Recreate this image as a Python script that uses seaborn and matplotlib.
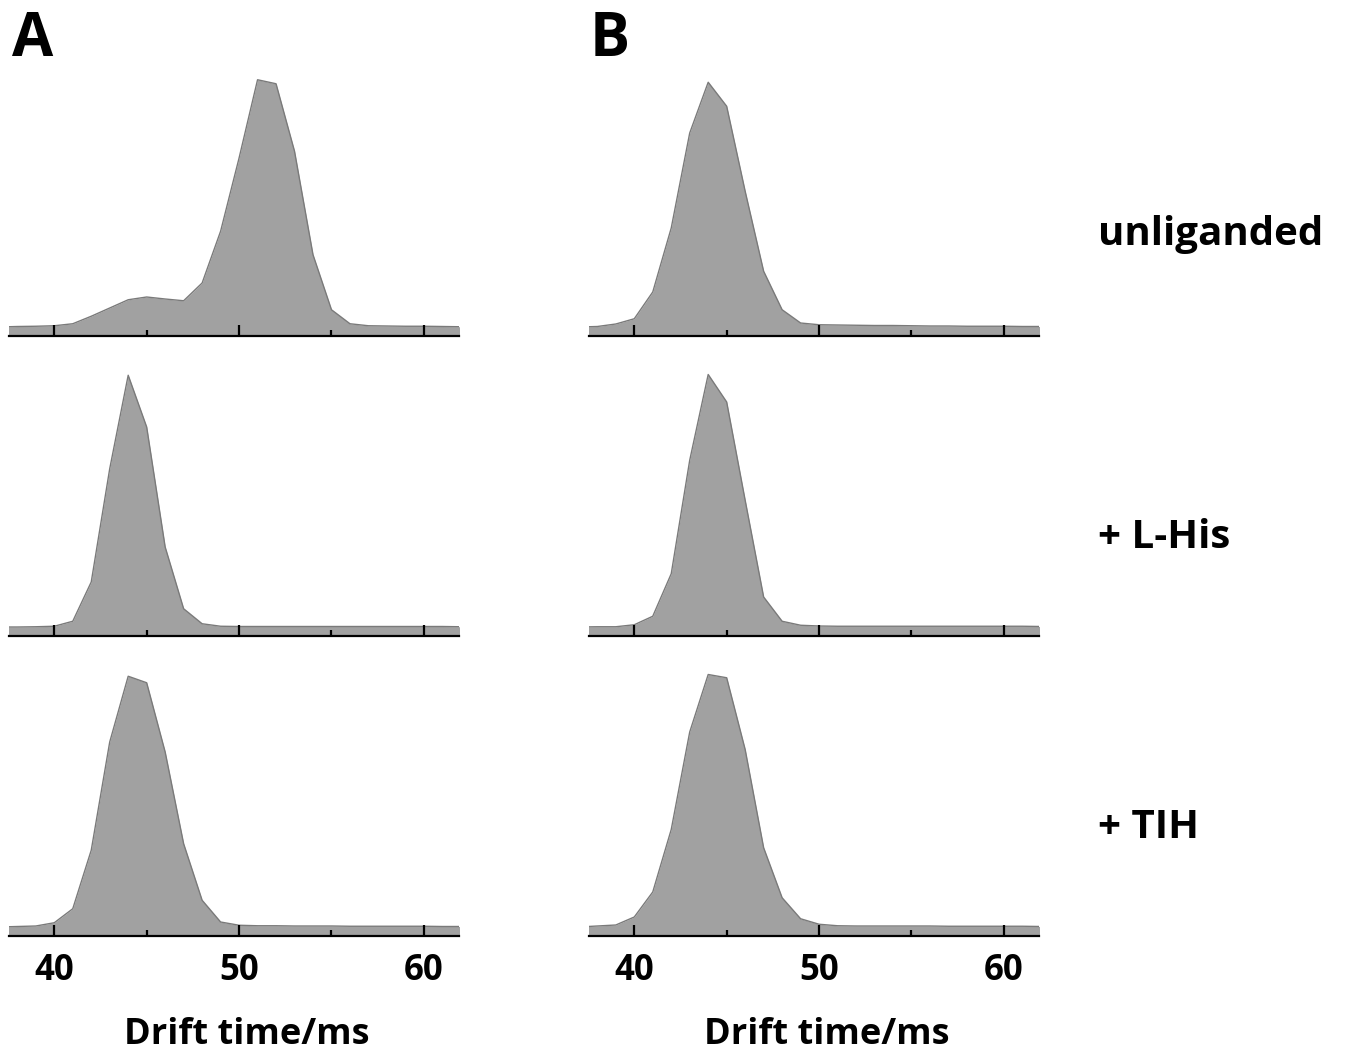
import numpy as np
import matplotlib
matplotlib.use("Agg")
import matplotlib.pyplot as plt
import seaborn as sns

# drift time grid (ms) and relative intensities
drift_time = [37, 38, 39, 40, 41, 42, 43, 44, 45, 46, 47, 48, 49,
              50, 51, 52, 53, 54, 55, 56, 57, 58, 59, 60, 61, 62]

a_unliganded = [0.0, 0.2, 0.3, 0.5, 1.3, 4.3, 7.6, 10.9, 12.0, 11.2, 10.5, 17.6, 38.3,
                67.6, 98.9, 97.3, 70.3, 28.9, 6.9, 1.3, 0.5, 0.4, 0.3, 0.3, 0.2, 0.1]
a_lhis = [0.0, 0.0, 0.1, 0.3, 2.3, 18.0, 63.3, 100.7, 80.0, 32.0, 7.3, 1.3, 0.3,
          0.2, 0.2, 0.2, 0.2, 0.2, 0.2, 0.2, 0.2, 0.2, 0.2, 0.2, 0.2, 0.1]
a_tih = [0.0, 0.2, 0.4, 1.7, 7.3, 30.7, 74.0, 100.3, 97.7, 70.0, 33.3, 10.7, 2.0,
         0.7, 0.5, 0.5, 0.4, 0.4, 0.4, 0.3, 0.3, 0.3, 0.3, 0.3, 0.2, 0.2]

b_unliganded = [0.0, 0.2, 1.2, 3.3, 14.0, 39.6, 77.6, 97.9, 88.3, 54.3, 22.3, 6.9, 1.6,
                0.9, 0.8, 0.7, 0.6, 0.6, 0.5, 0.4, 0.4, 0.3, 0.3, 0.3, 0.2, 0.2]
b_lhis = [0.0, 0.1, 0.1, 0.9, 4.3, 21.3, 66.7, 101.0, 90.0, 50.7, 12.0, 2.3, 0.7,
          0.4, 0.3, 0.3, 0.3, 0.3, 0.3, 0.3, 0.3, 0.3, 0.3, 0.3, 0.3, 0.2]
b_tih = [0.0, 0.4, 0.8, 4.0, 14.0, 39.0, 78.0, 101.0, 99.7, 71.0, 31.7, 11.7, 3.3,
         1.1, 0.5, 0.4, 0.4, 0.4, 0.4, 0.4, 0.3, 0.3, 0.3, 0.3, 0.3, 0.2]

panel_letters = ["A", "B"]
row_labels = ["unliganded", "+ L-His", "+ TIH"]
major_ticks = [40, 50, 60]
minor_ticks = [45, 55]
x_label = "Drift time/ms"

columns = [[a_unliganded, a_lhis, a_tih], [b_unliganded, b_lhis, b_tih]]

sns.set_style("white")
plt.rcParams["font.family"] = ["Open Sans", "DejaVu Sans"]
plt.rcParams["font.weight"] = "bold"
plt.rcParams["text.color"] = "black"
plt.rcParams["xtick.color"] = "black"
plt.rcParams["axes.labelcolor"] = "black"

fig = plt.figure(figsize=(13.62, 10.56), dpi=100)

y_low, y_high = -3.6, 104
lefts = [9 / 1362, 589 / 1362]
width = 450 / 1362
bottoms = [1 - 336 / 1056, 1 - 636 / 1056, 1 - 936 / 1056]
height = 269 / 1056

for c, col in enumerate(columns):
    for r, vals in enumerate(col):
        ax = fig.add_axes([lefts[c], bottoms[r], width, height])
        ax.fill_between(drift_time, vals, y_low, color="#a1a1a1", linewidth=0)
        sns.lineplot(x=drift_time, y=vals, ax=ax, color="#7a7a7a", linewidth=1.0)
        ax.set_axisbelow(False)
        ax.set_xlim(37.55, 61.9)
        ax.set_ylim(y_low, y_high)
        for s in ["top", "left", "right"]:
            ax.spines[s].set_visible(False)
        ax.spines["bottom"].set_linewidth(1.6)
        ax.spines["bottom"].set_color("black")
        ax.set_yticks([])
        ax.set_xticks(major_ticks)
        ax.set_xticks(minor_ticks, minor=True)
        ax.tick_params(axis="x", which="major", direction="in", length=8,
                       width=1.6, color="black", pad=12, labelsize=25,
                       bottom=True, labelcolor="black")
        ax.tick_params(axis="x", which="minor", direction="in", length=4,
                       width=1.6, color="black", bottom=True)
        ax.set_ylabel("")
        if r < 2:
            ax.tick_params(axis="x", which="both", labelbottom=False)
            ax.set_xlabel("")
        else:
            for lab in ax.get_xticklabels():
                lab.set_fontweight("bold")
            ax.set_xlabel(x_label, fontsize=26, fontweight="bold", color="black")
            ax.xaxis.set_label_coords(0.528, -0.3)

fig.text(12 / 1362, 1 - 56 / 1056, panel_letters[0], fontsize=43,
         fontweight="bold", ha="left", va="baseline")
fig.text(590 / 1362, 1 - 56 / 1056, panel_letters[1], fontsize=43,
         fontweight="bold", ha="left", va="baseline")

label_y = [235, 538, 828]
for lab, yy in zip(row_labels, label_y):
    fig.text(1098 / 1362, 1 - yy / 1056, lab, fontsize=29, fontweight="bold",
             ha="left", va="center")

fig.savefig("out.png", dpi=100)
